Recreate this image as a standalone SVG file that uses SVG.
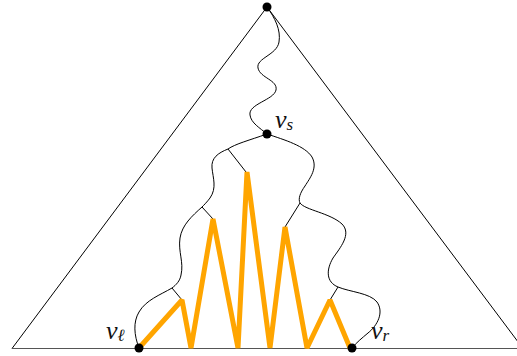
<svg xmlns="http://www.w3.org/2000/svg" width="517" height="356" viewBox="0 0 517 356">
<style>
.thin{fill:none;stroke:#000;stroke-width:1}
.dot{fill:#000}
.lab{font-family:"Liberation Serif","DejaVu Serif",serif;font-style:italic;font-size:26px;fill:#111}
.sub{font-size:17px}
.zig{fill:none;stroke:#FFA500;stroke-width:5;stroke-linejoin:bevel}
</style>
<rect width="517" height="356" fill="#fff"/>
<g id="triangle" class="thin">
<line x1="267" y1="7" x2="12" y2="348.5"/>
<line x1="267" y1="7" x2="523" y2="348.5"/>
<line x1="12" y1="348.5" x2="517" y2="348.5" stroke="#555"/>
</g>
<g id="connectors" class="thin">
<path d="M267,7 C275,18 281,30 279,42 C277,55 256,58 258,68 C260,78 278,80 276,90 C274,100 248,104 250,115 C251,123 260,128 267,134"/>
<path d="M267,134 C250,140 235,144 228,149 C218,153 211,158 212,168 C213,178 217,188 210,198 C207,202 204,205 202,207 C192,216 182,225 180,238 C178,252 184,262 181,275 C180,281 176,285 172,288 C160,295 146,300 139,312 C133,322 134,335 139,348"/>
<path d="M267,134 C285,140 305,146 312,157 C318,168 310,178 305,186 C300,193 298,199 300,203 C305,210 330,213 342,224 C352,234 340,248 333,258 C326,270 326,282 338,287 C350,292 370,293 377,302 C384,312 378,325 368,333 C362,338 356,343 352,348"/>
<line x1="228" y1="149" x2="246" y2="172"/>
<line x1="202" y1="207" x2="213" y2="219"/>
<line x1="172" y1="288" x2="182" y2="300"/>
<line x1="300" y1="203" x2="285" y2="227"/>
<line x1="338" y1="287" x2="330" y2="300"/>
</g>
<g id="zigzag">
<polyline class="zig" points="139,348 182,300 191,348 213,219 238,348 247,172 270,348 285,227 307,348 330,300 350,348"/>
</g>
<g id="apex"><circle class="dot" cx="267" cy="7" r="4.5"/></g>
<g id="v_s"><circle class="dot" cx="267" cy="134" r="4.5"/>
<text class="lab" x="275" y="128">v<tspan class="sub" dy="2">s</tspan></text></g>
<g id="v_l"><circle class="dot" cx="139" cy="348" r="4.5"/>
<text class="lab" x="106" y="339">v<tspan class="sub" dy="2">ℓ</tspan></text></g>
<g id="v_r"><circle class="dot" cx="352" cy="348" r="4.5"/>
<text class="lab" x="371" y="339">v<tspan class="sub" dy="2">r</tspan></text></g>
</svg>
